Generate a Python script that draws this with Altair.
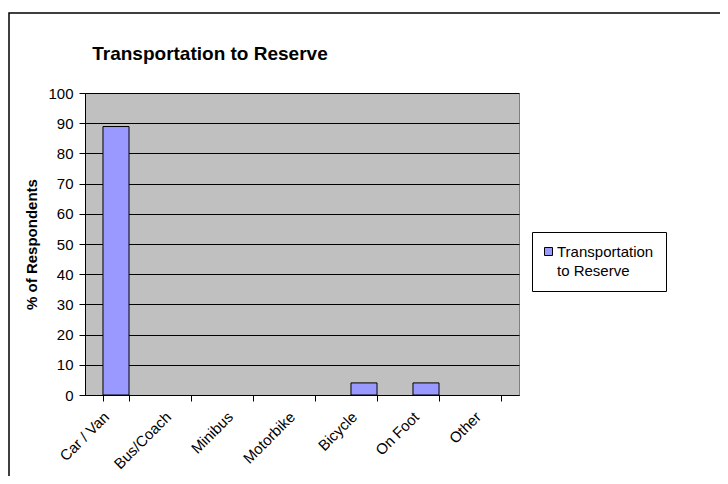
import altair as alt
import pandas as pd

categories = ["Car / Van", "Bus/Coach", "Minibus", "Motorbike", "Bicycle", "On Foot", "Other"]
values = [88.9, 0, 0, 0, 4.0, 4.0, 0]
series_name = "Transportation to Reserve"
y_ticks = list(range(0, 101, 10))

df = pd.DataFrame({"mode": categories, "pct": values, "series": [series_name] * len(categories)})

W, H = 434, 302
FONT = "Liberation Sans"

bars = alt.Chart(df).mark_bar(stroke="black", strokeWidth=1).encode(
    x=alt.X(
        "mode:N", sort=categories,
        scale=alt.Scale(paddingInner=0.58, paddingOuter=0.29),
        axis=alt.Axis(
            title=None, labelAngle=-45, labelAlign="right", labelBaseline="middle",
            tickBand="extent", grid=False, ticks=True, tickSize=6, tickColor="black",
            domainColor="black", labelColor="black", labelFont=FONT, labelFontSize=15,
            labelPadding=13, labelOffset=-10,
        ),
    ),
    y=alt.Y(
        "pct:Q",
        scale=alt.Scale(domain=[0, 100], nice=False),
        axis=alt.Axis(
            values=y_ticks, title="% of Respondents", grid=True, gridColor="black",
            gridWidth=1, gridOpacity=1, tickSize=6, tickColor="black", domainColor="black",
            labelColor="black", labelFont=FONT, labelFontSize=15, labelPadding=6,
            titleFont=FONT, titleFontSize=15, titleFontWeight="bold", titleColor="black",
            titleX=-54, titleY=H / 2, titleBaseline="middle", titleAlign="center", titleAngle=-90,
        ),
    ),
    strokeOpacity=alt.condition("datum.pct > 0", alt.value(1), alt.value(0)),
    color=alt.Color(
        "series:N",
        scale=alt.Scale(range=["#9999FF"]),
        legend=alt.Legend(
            title=None, orient="none", legendX=447, legendY=139,
            strokeColor="black", fillColor="white", padding=12,
            labelExpr="['Transportation', 'to Reserve']",
            labelFont=FONT, labelFontSize=15, labelColor="black", labelBaseline="middle",
            labelOffset=1, symbolOffset=-3,
            symbolType="square",
            symbolSize=64, symbolStrokeColor="black", symbolStrokeWidth=1,
            symbolFillColor="#9999FF",
        ),
    ),
)

frame = alt.Chart(pd.DataFrame({"f": [0]})).mark_rect(
    fill="white", fillOpacity=0, stroke="black", strokeWidth=1.5
).encode(
    x=alt.value(-76), x2=alt.value(W + 400), y=alt.value(-80), y2=alt.value(H + 300)
)

chart = alt.layer(frame, bars).properties(
    width=W, height=H,
    autosize=alt.AutoSizeParams(type="none"),
    padding={"left": 77, "top": 85, "right": 201, "bottom": 81},
    title=alt.TitleParams(
        series_name, anchor="start", dx=84, offset=0, dy=67, baseline="alphabetic",
        font=FONT, fontSize=19, fontWeight="bold", color="black",
    ),
).configure(
    background="white",
    view=alt.ViewConfig(fill="#C0C0C0", stroke="#808080", strokeWidth=1),
    style={"guide-label": {"lineHeight": 19}},
)

chart.save("out.html", embed_options={"renderer": "svg", "actions": False})
